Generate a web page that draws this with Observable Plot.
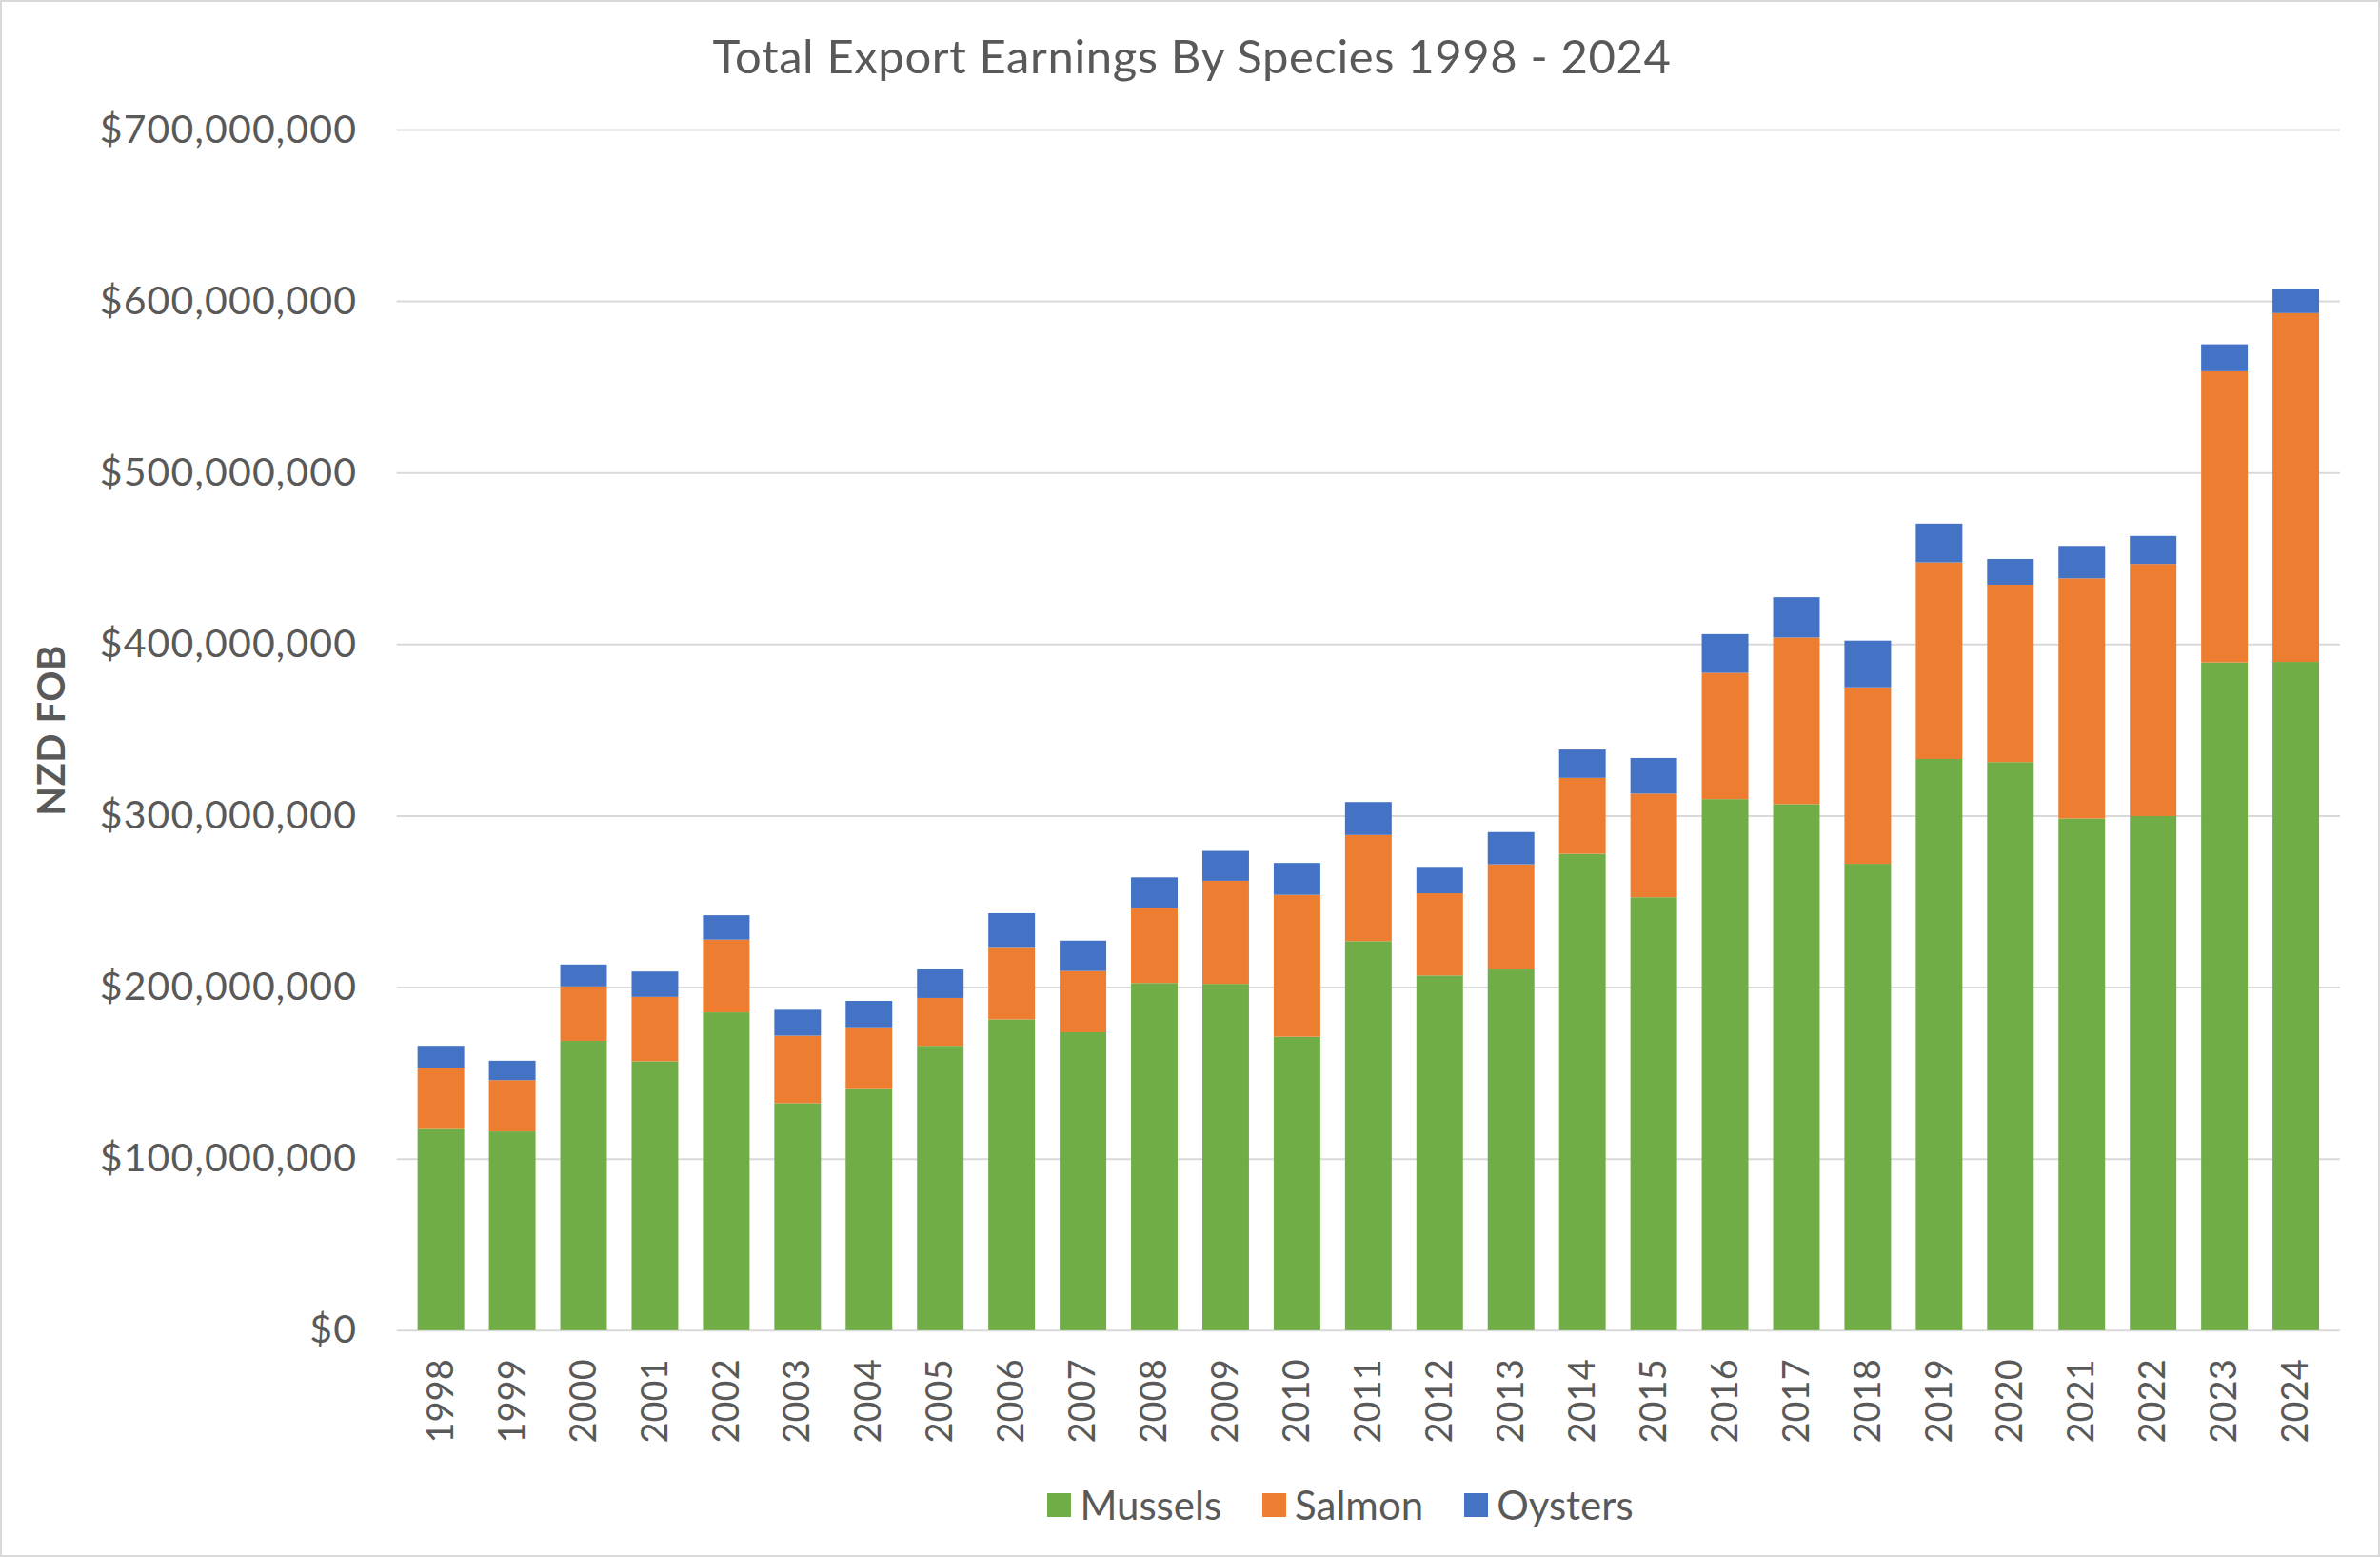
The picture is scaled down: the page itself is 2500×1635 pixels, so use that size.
<!DOCTYPE html>
<html>
<head>
<meta charset="utf-8">
<script src="https://cdn.jsdelivr.net/npm/d3@7"></script>
<script src="https://cdn.jsdelivr.net/npm/@observablehq/plot@0.6"></script>
<style>
  html, body { margin: 0; padding: 0; background: #fff; }
  #frame { position: relative; width: 2500px; height: 1635px; box-sizing: border-box; border: 2px solid #d9d9d9; overflow: hidden; font-family: Lato, "Noto Sans", sans-serif; color: #595959; }
  #title { position: absolute; left: 0; width: 2500px; top: 26px; text-align: center; font-size: 49px; line-height: 60px; letter-spacing: 0.6px; }
  #chart { position: absolute; left: -2px; top: -2px; }
  #chart svg g[aria-label="y-axis tick label"] text { letter-spacing: 1.2px; }
  #chart svg g[aria-label="y-axis label"] text { font-weight: bold; letter-spacing: 0.5px; }
  #legend { position: absolute; top: 1551px; left: 0; width: 2812px; display: flex; justify-content: center; gap: 43px; font-size: 42px; line-height: 54px; }
  .item { display: flex; align-items: center; gap: 9px; }
  .sw { width: 25px; height: 25px; display: inline-block; }
</style>
</head>
<body>
<div id="frame">
  <div id="title"></div>
  <div id="chart"></div>
  <div id="legend"></div>
</div>
<script>
const titleText = "Total Export Earnings By Species 1998 - 2024";
const years = ["1998","1999","2000","2001","2002","2003","2004","2005","2006","2007","2008","2009","2010","2011","2012","2013","2014","2015","2016","2017","2018","2019","2020","2021","2022","2023","2024"];
const species = ["Mussels", "Salmon", "Oysters"];
const colors = ["#70AD47", "#ED7D31", "#4472C4"];
const mussels = [117300000,115900000,168700000,156800000,185300000,132400000,140600000,165800000,181200000,173700000,202400000,201900000,171100000,226800000,206800000,210300000,277700000,252400000,309600000,306700000,271900000,333000000,331200000,298300000,299700000,389300000,389600000];
const salmon = [35800000,29900000,31700000,37500000,42400000,39300000,36000000,27900000,42200000,35700000,43600000,60100000,82700000,61900000,47900000,61300000,44300000,60400000,73600000,97100000,102900000,114600000,103400000,140000000,147000000,169700000,203300000];
const oysters = [12700000,11300000,12800000,14800000,14200000,15100000,15400000,16600000,19700000,17700000,18000000,17400000,18600000,19200000,15400000,18800000,16500000,20800000,22600000,23500000,27200000,22600000,15000000,18900000,16300000,15700000,14000000];
const yTicks = [0,100000000,200000000,300000000,400000000,500000000,600000000,700000000];
const yLabel = "NZD FOB";

const series = [mussels, salmon, oysters];
const table = [];
years.forEach((yr, i) => {
  species.forEach((sp, j) => table.push({year: yr, species: sp, value: series[j][i]}));
});

const fmt = d3.format("$,.0f");

const chart = Plot.plot({
  width: 2500,
  height: 1530,
  marginLeft: 417,
  marginRight: 40,
  marginTop: 136,
  marginBottom: 132,
  style: {fontFamily: "Lato, 'Noto Sans', sans-serif", fontSize: "38px", color: "#595959", background: "transparent"},
  x: {domain: years, paddingInner: 0.34, paddingOuter: 0.17},
  y: {domain: [0, 700000000]},
  color: {domain: species, range: colors},
  marks: [
    Plot.gridY(yTicks, {stroke: "#d9d9d9", strokeOpacity: 1, strokeWidth: 2}),
    Plot.barY(table, Plot.stackY({x: "year", y: "value", fill: "species", order: species})),
    Plot.axisY(yTicks, {tickFormat: fmt, tickSize: 0, tickPadding: 42, fontSize: 41, label: null}),
    Plot.axisY(yTicks, {tickFormat: null, text: null, tickSize: 0, ticks: [], fontSize: 40, label: yLabel, labelAnchor: "center", labelArrow: "none", labelOffset: 378}),
    Plot.axisX({tickRotate: -90, tickSize: 0, tickPadding: 30, fontSize: 38, label: null})
  ]
});
document.getElementById("chart").appendChild(chart);
document.getElementById("title").textContent = titleText;

const legend = document.getElementById("legend");
species.forEach((sp, i) => {
  const it = document.createElement("div");
  it.className = "item";
  const sw = document.createElement("span");
  sw.className = "sw";
  sw.style.background = colors[i];
  const t = document.createElement("span");
  t.textContent = sp;
  it.appendChild(sw); it.appendChild(t);
  legend.appendChild(it);
});
</script>
</body>
</html>
